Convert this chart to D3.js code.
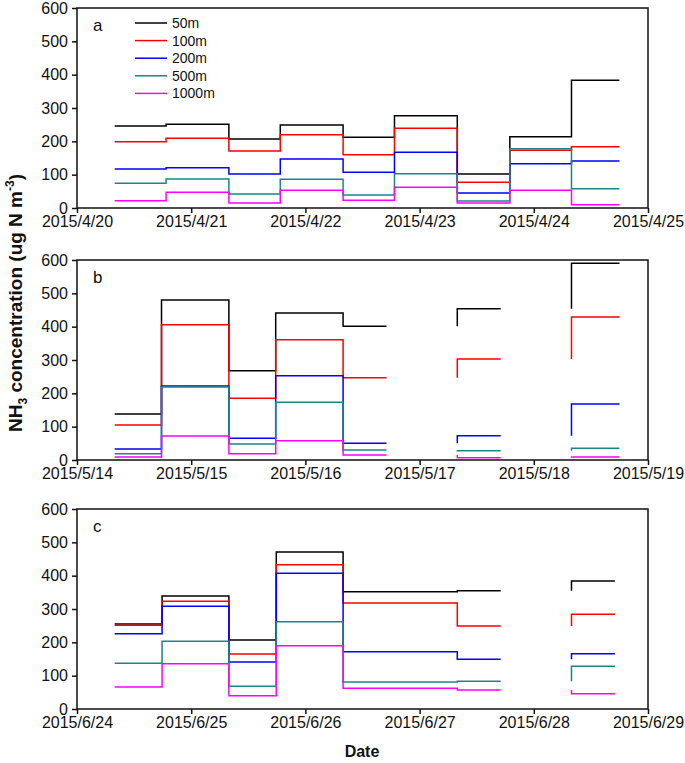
<!DOCTYPE html>
<html><head><meta charset="utf-8">
<script src="https://cdn.jsdelivr.net/npm/d3@7"></script>
<style>body{margin:0;background:#fff}svg{display:block}text{font-family:Arial,"Liberation Sans",sans-serif}</style>
</head><body>
<svg id="c" width="685" height="763"></svg>
<script>
const seriesNames = ["50m","100m","200m","500m","1000m"];
const seriesColors = ["#000000","#ff0000","#0000ff","#1a8585","#ff00ff"];
const yTicks = [0,100,200,300,400,500,600];

// Panel a
const aTickLabels = ["2015/4/20","2015/4/21","2015/4/22","2015/4/23","2015/4/24","2015/4/25"];
const aStart = [0.33,0.78,1.33,1.78,2.33,2.78,3.33,3.79,4.33];
const aEnd   = [0.78,1.33,1.78,2.33,2.78,3.33,3.79,4.33,4.75];
const a50   = [246,251,207,249,212,277,102,214,383];
const a100  = [199,209,171,220,160,239,77,173,184];
const a200  = [117,121,102,147,107,167,45,133,141];
const a500  = [74,87,42,86,39,103,21,178,58];
const a1000 = [22,47,15,53,23,62,15,53,10];

// Panel b
const bTickLabels = ["2015/5/14","2015/5/15","2015/5/16","2015/5/17","2015/5/18","2015/5/19"];
const bStart = [0.33,0.74,1.33,1.74,2.33,3.33,4.33];
const bEnd   = [0.74,1.33,1.74,2.33,2.71,3.71,4.75];
const b50   = [138,480,268,441,401,454,590];
const b100  = [105,406,185,361,247,303,429];
const b200  = [33,222,65,253,50,73,168];
const b500  = [19,219,48,173,30,28,35];
const b1000 = [9,72,19,58,15,7,9];

// Panel c
const cTickLabels = ["2015/6/24","2015/6/25","2015/6/26","2015/6/27","2015/6/28","2015/6/29"];
const cStart = [0.33,0.745,1.33,1.745,2.33,3.33,4.33];
const cEnd   = [0.745,1.33,1.745,2.33,3.33,3.71,4.71];
const c50   = [255,339,207,471,352,355,384];
const c100  = [251,323,165,433,318,249,284];
const c200  = [226,308,141,407,172,149,166];
const c500  = [137,203,68,262,81,83,128];
const c1000 = [66,136,40,190,62,57,46];

const panels = [
  {label:"a", top:8,   ticks:aTickLabels, start:aStart, end:aEnd, series:[a50,a100,a200,a500,a1000], legend:true},
  {label:"b", top:260, ticks:bTickLabels, start:bStart, end:bEnd, series:[b50,b100,b200,b500,b1000]},
  {label:"c", top:509, ticks:cTickLabels, start:cStart, end:cEnd, series:[c50,c100,c200,c500,c1000]}
];

const svg = d3.select("#c");
const left = 77, right = 648, ph = 200;
const x = d3.scaleLinear().domain([0,5]).range([left,right]);

panels.forEach(p => {
  const y = d3.scaleLinear().domain([0,600]).range([p.top+ph, p.top]);
  const g = svg.append("g");
  p.series.forEach((vals, si) => {
    const path = d3.path();
    vals.forEach((v,i) => {
      if (i === 0) { path.moveTo(x(p.start[0]), y(v)); }
      else if (Math.abs(p.start[i]-p.end[i-1]) < 1e-6) { path.lineTo(x(p.start[i]), y(v)); }
      else { path.moveTo(x(p.start[i]), y(vals[i-1])); path.lineTo(x(p.start[i]), y(v)); }
      path.lineTo(x(p.end[i]), y(v));
    });
    g.append("path").attr("d", path.toString()).attr("fill","none")
      .attr("stroke", seriesColors[si]).attr("stroke-width",1.5);
  });
  g.append("rect").attr("x",left).attr("y",p.top).attr("width",right-left).attr("height",ph)
    .attr("fill","none").attr("stroke","#111").attr("stroke-width",1.5);
  const xa = g.append("g").attr("transform",`translate(0,${p.top+ph})`)
    .call(d3.axisBottom(x).tickValues([0,1,2,3,4,5]).tickFormat(i => p.ticks[i]).tickSize(5).tickPadding(3));
  const ya = g.append("g").attr("transform",`translate(${left},0)`)
    .call(d3.axisLeft(y).tickValues(yTicks).tickSize(5).tickPadding(4));
  [xa,ya].forEach(a => {
    a.select(".domain").remove();
    a.selectAll("line").attr("stroke","#111").attr("stroke-width",1.5);
    a.selectAll("text").attr("font-size",16).attr("fill","#111").style("font-family","Arial, 'Liberation Sans', sans-serif");
  });
  g.append("text").attr("x",93).attr("y",p.top+23).attr("font-size",17).attr("fill","#111").text(p.label);
  if (p.legend) {
    seriesNames.forEach((n,i) => {
      const ly = 23 + i*17.6;
      g.append("line").attr("x1",135).attr("x2",167).attr("y1",ly).attr("y2",ly)
        .attr("stroke",seriesColors[i]).attr("stroke-width",1.5);
      g.append("text").attr("x",172).attr("y",ly+5).attr("font-size",14).attr("fill","#111").text(n);
    });
  }
});

const yl = svg.append("text").attr("transform","translate(22,303) rotate(-90)")
  .attr("text-anchor","middle").attr("font-size",19).attr("font-weight","bold").attr("fill","#111");
yl.append("tspan").text("NH");
yl.append("tspan").attr("font-size",12).attr("dy",5).text("3");
yl.append("tspan").attr("dy",-5).text(" concentration (ug N m");
yl.append("tspan").attr("font-size",12).attr("dy",-8).text("-3");
yl.append("tspan").attr("dy",8).text(")");

svg.append("text").attr("x",362).attr("y",757).attr("text-anchor","middle")
  .attr("font-size",16).attr("font-weight","bold").attr("fill","#111").text("Date");
</script>
</body></html>
